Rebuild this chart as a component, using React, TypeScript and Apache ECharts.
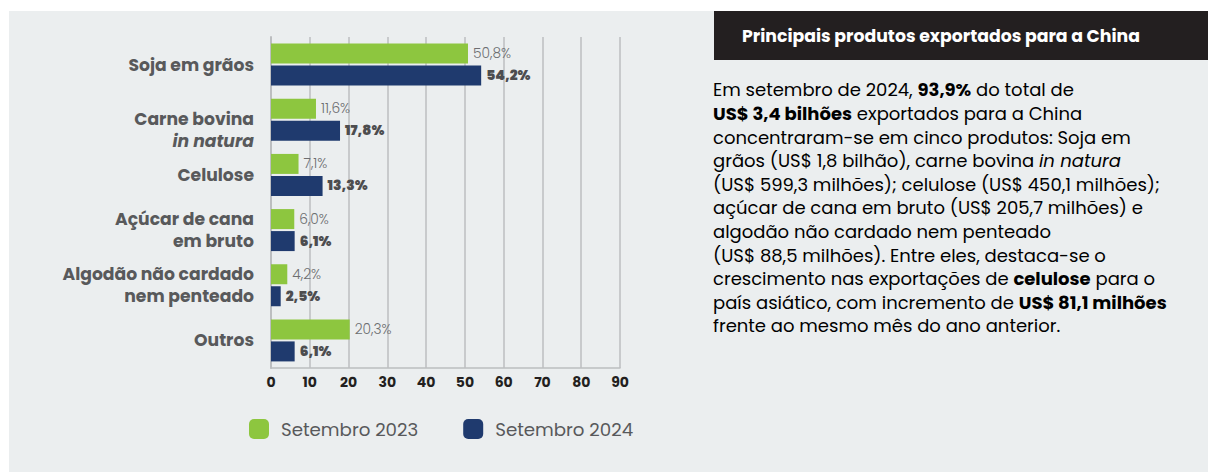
import React, { useEffect, useRef } from "react";
import * as echarts from "echarts";

const categories = [
  "Soja em grãos",
  "Carne bovina\nin natura",
  "Celulose",
  "Açúcar de cana\nem bruto",
  "Algodão não cardado\nnem penteado",
  "Outros",
];
const sep2023 = [50.8, 11.6, 7.1, 6.0, 4.2, 20.3];
const sep2024 = [54.2, 17.8, 13.3, 6.1, 2.5, 6.1];
const seriesNames = ["Setembro 2023", "Setembro 2024"];
const xTicks = { min: 0, max: 90, interval: 10 };

const title = "Principais produtos exportados para a China";
const paragraphLines: [string, string][][] = [
  [["r", "Em setembro de 2024, "], ["b", "93,9%"], ["r", " do total de"]],
  [["b", "US$ 3,4 bilhões"], ["r", " exportados para a China"]],
  [["r", "concentraram-se em cinco produtos: Soja em"]],
  [["r", "grãos (US$ 1,8 bilhão), carne bovina "], ["i", "in natura"]],
  [["r", "(US$ 599,3 milhões); celulose (US$ 450,1 milhões);"]],
  [["r", "açúcar de cana em bruto (US$ 205,7 milhões) e"]],
  [["r", "algodão não cardado nem penteado"]],
  [["r", "(US$ 88,5 milhões). Entre eles, destaca-se o"]],
  [["r", "crescimento nas exportações de "], ["b", "celulose"], ["r", " para o"]],
  [["r", "país asiático, com incremento de "], ["b", "US$ 81,1 milhões"]],
  [["r", "frente ao mesmo mês do ano anterior."]],
];

const FONT = "Poppins, 'Open Sans', sans-serif";
const GREEN = "#8dc63f";
const NAVY = "#1f3a6e";
const BG = "#ebeeef";

const fmt = (v: number) => v.toFixed(1).replace(".", ",") + "%";

export default function App() {
  const ref = useRef<HTMLDivElement>(null);
  useEffect(() => {
    if (!ref.current) return;
    const chart = echarts.init(ref.current, null, { renderer: "svg" });
    const paraText = paragraphLines
      .map((line) => line.map(([s, t]) => `{${s}|${t}}`).join(""))
      .join("\n");
    const baseRich = { fontFamily: FONT, fontSize: 18, color: "#231f20", lineHeight: 23.6 };
    const labelRich = { fontFamily: FONT, fontSize: 17.2, fontWeight: "bold", color: "#58595b", lineHeight: 22, align: "right" };
    chart.setOption({
      animation: false,
      backgroundColor: "#ffffff",
      textStyle: { fontFamily: FONT },
      graphic: [
        { type: "rect", z: -10, shape: { x: 9, y: 11, width: 1199, height: 461 }, style: { fill: BG } },
        { type: "rect", shape: { x: 714, y: 11, width: 494, height: 49 }, style: { fill: "#231f20" } },
        {
          type: "text",
          x: 742,
          y: 35.5,
          style: {
            text: title,
            fill: "#ffffff",
            font: `bold 17.3px ${FONT}`,
            verticalAlign: "middle",
          },
        },
        {
          type: "text",
          x: 713,
          y: 78,
          style: {
            text: paraText,
            verticalAlign: "top",
            rich: {
              r: { ...baseRich },
              b: { ...baseRich, fontWeight: "bold" },
              i: { ...baseRich, fontStyle: "italic" },
            },
          },
        },
      ],
      legend: {
        left: 249,
        top: 419,
        padding: 0,
        itemWidth: 20,
        itemHeight: 20,
        itemGap: 45,
        icon: "roundRect",
        data: seriesNames,
        textStyle: { fontFamily: FONT, fontSize: 18.2, color: "#58595b", padding: [0, 0, 0, 7] },
      },
      grid: { left: 271, right: 588, top: 37, bottom: 104 },
      xAxis: {
        type: "value",
        min: xTicks.min,
        max: xTicks.max,
        interval: xTicks.interval,
        axisLine: { show: true, lineStyle: { color: "#bcbec0", width: 1.5 } },
        axisTick: { show: false },
        axisLabel: { fontFamily: FONT, fontSize: 14, fontWeight: "bold", color: "#231f20", margin: 7 },
        splitLine: { show: true, lineStyle: { color: "#bcbec0", width: 1.5 } },
      },
      yAxis: {
        type: "category",
        inverse: true,
        data: categories.map((c) =>
          c.indexOf("in natura") >= 0 ? { value: c, textStyle: { padding: [20, 0, 0, 0] } } : c
        ),
        axisLine: { show: true, lineStyle: { color: "#bcbec0", width: 2 } },
        axisTick: { show: false },
        axisLabel: {
          margin: 17,
          formatter: (v: string) =>
            v
              .split("\n")
              .map((l) => (l === "in natura" ? `{i|${l}}` : `{b|${l}}`))
              .join("\n"),
          rich: {
            b: { ...labelRich },
            i: { ...labelRich, fontStyle: "italic" },
          },
        },
      },
      series: [
        {
          name: seriesNames[0],
          type: "bar",
          data: sep2023,
          barWidth: 20,
          barGap: "10%",
          itemStyle: { color: GREEN },
          label: {
            show: true,
            position: "right",
            distance: 5,
            formatter: (p: any) => fmt(p.value),
            fontFamily: FONT,
            fontSize: 13.8,
            fontWeight: 300,
            color: "#6d6e71",
          },
        },
        {
          name: seriesNames[1],
          type: "bar",
          data: sep2024,
          barWidth: 20,
          itemStyle: { color: NAVY },
          label: {
            show: true,
            position: "right",
            distance: 5,
            formatter: (p: any) => fmt(p.value),
            fontFamily: FONT,
            fontSize: 13.8,
            fontWeight: 900,
            color: "#4d4d4f",
          },
        },
      ],
    });
    return () => chart.dispose();
  }, []);
  return (
    <div
      ref={ref}
      style={{ position: "absolute", left: 0, top: 0, width: 1208, height: 472 }}
    />
  );
}
